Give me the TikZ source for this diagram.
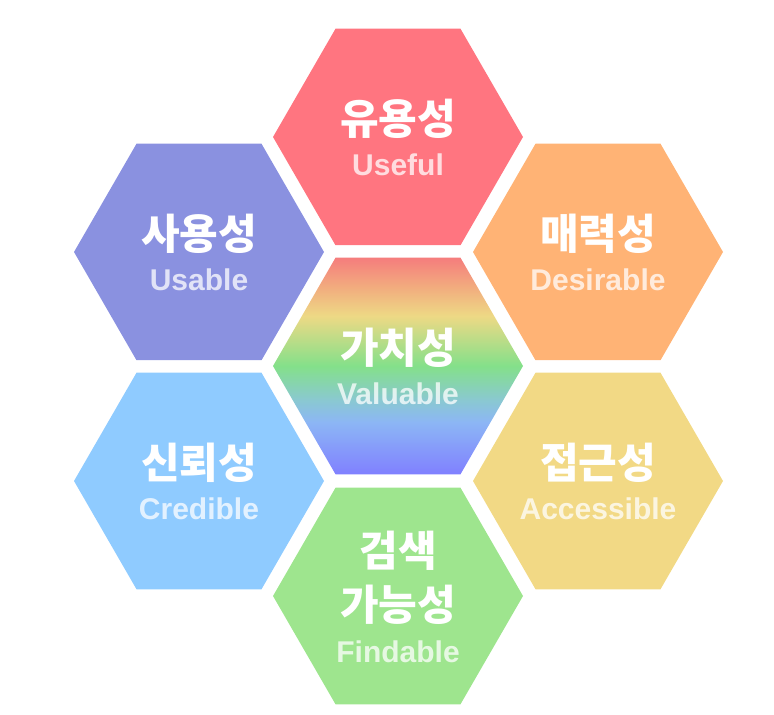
\documentclass[tikz,border=0pt]{standalone}
\usepackage{fontspec}
\setmainfont{Liberation Sans}
\newfontfamily\kr{Noto Sans CJK KR}
\usetikzlibrary{shapes.geometric}
\definecolor{cUseful}{RGB}{255,117,128}
\definecolor{cUsable}{RGB}{138,145,224}
\definecolor{cDesirable}{RGB}{255,179,117}
\definecolor{cAccessible}{RGB}{242,217,133}
\definecolor{cCredible}{RGB}{143,203,255}
\definecolor{cFindable}{RGB}{158,229,142}
\definecolor{rbA}{RGB}{128,128,255}
\definecolor{rbB}{RGB}{140,182,245}
\definecolor{rbC}{RGB}{138,200,210}
\definecolor{rbD}{RGB}{132,224,138}
\definecolor{rbE}{RGB}{237,217,133}
\definecolor{rbF}{RGB}{242,170,126}
\definecolor{rbG}{RGB}{245,125,125}
\pgfdeclareverticalshading{rainbow}{100bp}{color(0bp)=(rbA); color(25bp)=(rbA); color(37bp)=(rbB); color(42bp)=(rbC); color(50bp)=(rbD); color(61.5bp)=(rbE); color(68.5bp)=(rbF); color(75bp)=(rbG); color(100bp)=(rbG)}
\begin{document}
\begin{tikzpicture}[x=1pt,y=1pt,
  hex/.style={regular polygon, regular polygon sides=6, minimum size=250pt, inner sep=0pt, outer sep=0pt, draw=none},
  ko/.style={font=\kr\bfseries\fontsize{42}{50}\selectfont, text=white, anchor=base, inner sep=0pt},
  en/.style={font=\bfseries\fontsize{30}{36}\selectfont, text=white, text opacity=0.75, anchor=base, inner sep=0pt}]
\useasboundingbox (0,0) rectangle (774,715);
\node[hex, fill=cUseful] (useful) at (398,578) {};
\node[hex, fill=cUsable] (usable) at (199,463) {};
\node[hex, fill=cDesirable] (desirable) at (598,463) {};
\node[hex, shade, shading=rainbow] (valuable) at (398,349) {};
\node[hex, fill=cCredible] (credible) at (199,234) {};
\node[hex, fill=cAccessible] (accessible) at (598,234) {};
\node[hex, fill=cFindable] (findable) at (398,119) {};

\node[ko] (useful-ko) at ([yshift=2pt]useful.center) {유용성};
\node[en] (useful-en) at ([yshift=-39pt]useful.center) {Useful};
\node[ko] (usable-ko) at ([yshift=2pt]usable.center) {사용성};
\node[en] (usable-en) at ([yshift=-39pt]usable.center) {Usable};
\node[ko] (desirable-ko) at ([yshift=2pt]desirable.center) {매력성};
\node[en] (desirable-en) at ([yshift=-39pt]desirable.center) {Desirable};
\node[ko] (valuable-ko) at ([yshift=2pt]valuable.center) {가치성};
\node[en] (valuable-en) at ([yshift=-39pt]valuable.center) {Valuable};
\node[ko] (credible-ko) at ([yshift=2pt]credible.center) {신뢰성};
\node[en] (credible-en) at ([yshift=-39pt]credible.center) {Credible};
\node[ko] (accessible-ko) at ([yshift=2pt]accessible.center) {접근성};
\node[en] (accessible-en) at ([yshift=-39pt]accessible.center) {Accessible};
\node[ko] (findable-ko1) at ([yshift=29pt]findable.center) {검색};
\node[ko] (findable-ko2) at ([yshift=-25pt]findable.center) {가능성};
\node[en] (findable-en) at ([yshift=-67pt]findable.center) {Findable};
\end{tikzpicture}
\end{document}
